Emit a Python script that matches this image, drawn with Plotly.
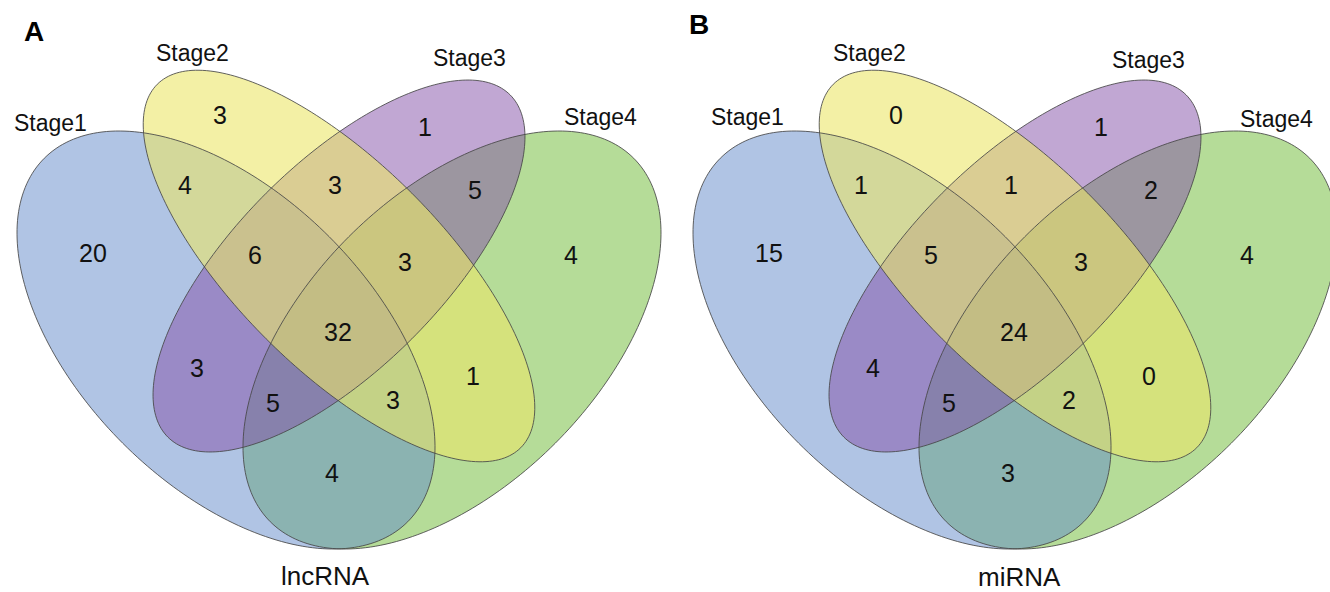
import numpy as np
import plotly.graph_objects as go

# ---------------- data ----------------
SETS = ["Stage1", "Stage2", "Stage3", "Stage4"]
PANEL_LETTERS = ["A", "B"]
PANEL_TITLES = ["lncRNA", "miRNA"]
# region keys: digits = member sets (1=Stage1 ... 4=Stage4)
REGIONS = ["1", "2", "3", "4", "12", "13", "14", "23", "24", "34",
           "123", "124", "134", "234", "1234"]
COUNTS_A = [20, 3, 1, 4, 4, 3, 4, 3, 1, 5, 6, 3, 5, 3, 32]
COUNTS_B = [15, 0, 1, 4, 1, 4, 3, 1, 0, 2, 5, 2, 5, 3, 24]
PANEL_COUNTS = [COUNTS_A, COUNTS_B]

# ---------------- layout (pixel space of a panel) ----------------
PANEL_OFFSET = [0, 676]
# ellipse geometry: (cx, cy, semi-major, semi-minor, angle deg, y-down)
ELLIPSES = {
    "1": (226, 340, 257, 146, 45),
    "2": (339, 266, 257, 103, 45),
    "3": (339, 266, 242, 103, -45),
    "4": (452, 340, 257, 146, -45),
}
FILL = {
    "1": "rgba(97,137,201,0.5)",
    "2": "rgba(235,230,105,0.6)",
    "3": "rgba(131,80,168,0.5)",
    "4": "rgba(107,185,49,0.5)",
}
DRAW_ORDER = ["4", "1", "3", "2"]
REGION_POS = {
    "1": (93, 253), "2": (220, 115), "3": (425, 127), "4": (571, 255),
    "12": (185, 185), "13": (197, 368), "14": (332, 473), "23": (335, 185),
    "24": (473, 376), "34": (475, 190), "123": (255, 255), "124": (393, 400),
    "134": (273, 403), "234": (405, 262), "1234": (338, 332),
}
SET_LABEL_POS = [
    [(50, 123), (192, 53), (469, 58), (600, 117)],
    [(71, 117), (193, 53), (472, 60), (600, 119)],
]
LETTER_POS = [(34, 31), (23, 24)]
TITLE_POS = [(325, 576), (343, 577)]

FONT = "Liberation Sans, Arial, sans-serif"


def ellipse_path(cx, cy, a, b, ang, n=240):
    t = np.linspace(0, 2 * np.pi, n, endpoint=False)
    th = np.deg2rad(ang)
    x = cx + a * np.cos(t) * np.cos(th) - b * np.sin(t) * np.sin(th)
    y = cy + a * np.cos(t) * np.sin(th) + b * np.sin(t) * np.cos(th)
    pts = [f"{xx:.2f},{yy:.2f}" for xx, yy in zip(x, y)]
    return "M " + " L ".join(pts) + " Z"


fig = go.Figure()
shapes = []
annotations = []

for p in range(2):
    ox = PANEL_OFFSET[p]
    # fills
    for key in DRAW_ORDER:
        cx, cy, a, b, ang = ELLIPSES[key]
        shapes.append(dict(type="path", xref="x", yref="y",
                           path=ellipse_path(cx + ox, cy, a, b, ang),
                           fillcolor=FILL[key], line=dict(width=0),
                           layer="above"))
    # outlines
    for key in DRAW_ORDER:
        cx, cy, a, b, ang = ELLIPSES[key]
        shapes.append(dict(type="path", xref="x", yref="y",
                           path=ellipse_path(cx + ox, cy, a, b, ang),
                           fillcolor="rgba(0,0,0,0)",
                           line=dict(color="rgba(70,70,70,0.85)", width=1),
                           layer="above"))
    # region counts
    for reg, val in zip(REGIONS, PANEL_COUNTS[p]):
        x, y = REGION_POS[reg]
        annotations.append(dict(x=x + ox, y=y, xref="x", yref="y",
                                text=str(val), showarrow=False,
                                xanchor="center", yanchor="middle",
                                font=dict(family=FONT, size=25, color="#111")))
    # set labels
    for name, (x, y) in zip(SETS, SET_LABEL_POS[p]):
        annotations.append(dict(x=x + ox, y=y, xref="x", yref="y",
                                text=name, showarrow=False,
                                xanchor="center", yanchor="middle",
                                font=dict(family=FONT, size=23, color="#111")))
    # panel letter
    lx, ly = LETTER_POS[p]
    annotations.append(dict(x=lx + ox, y=ly, xref="x", yref="y",
                            text=f"<b>{PANEL_LETTERS[p]}</b>", showarrow=False,
                            xanchor="center", yanchor="middle",
                            font=dict(family=FONT, size=28, color="#000")))
    tx, ty = TITLE_POS[p]
    annotations.append(dict(x=tx + ox, y=ty, xref="x", yref="y",
                            text=PANEL_TITLES[p], showarrow=False,
                            xanchor="center", yanchor="middle",
                            font=dict(family=FONT, size=26, color="#111")))

fig.update_layout(
    width=1330, height=592, autosize=False,
    margin=dict(l=0, r=0, t=0, b=0),
    paper_bgcolor="white", plot_bgcolor="white",
    shapes=shapes, annotations=annotations,
    xaxis=dict(range=[0, 1330], visible=False, fixedrange=True),
    yaxis=dict(range=[592, 0], visible=False, fixedrange=True),
    showlegend=False,
)
fig.write_html(
    "out.html",
    config={"displayModeBar": False},
    post_script="document.body.style.margin='0';document.body.style.overflow='hidden';",
)
